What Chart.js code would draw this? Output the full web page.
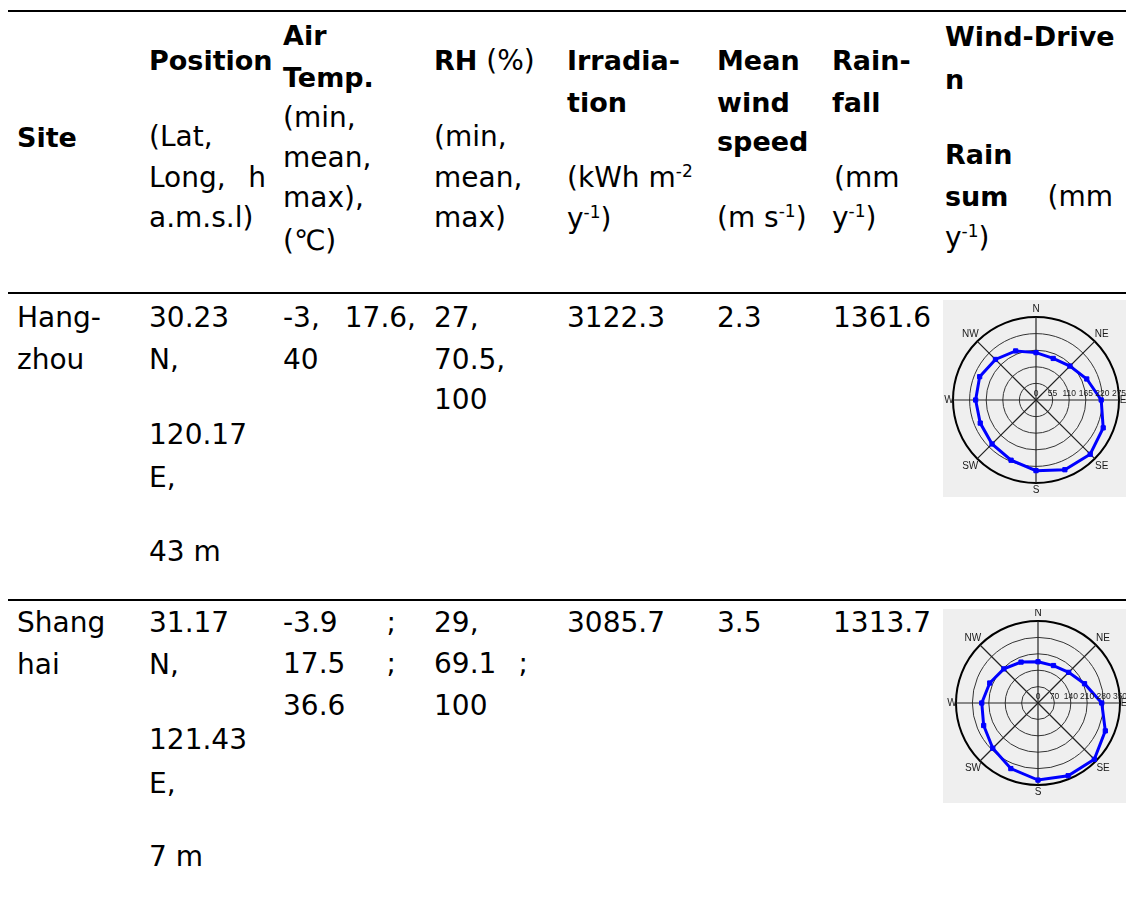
<!DOCTYPE html>
<html>
<head>
<meta charset="utf-8">
<script src="https://cdn.jsdelivr.net/npm/chart.js@4.4.1/dist/chart.umd.min.js"></script>
<style>
  html, body { margin: 0; padding: 0; background: #ffffff; }
  body { width: 1126px; height: 902px; position: relative; overflow: hidden; }
  .t { position: absolute; font-family: "DejaVu Sans", sans-serif; font-size: 28px; line-height: 28px; color: #000; white-space: pre; }
  .b { font-weight: bold; font-size: 27px; }
  .sup { font-size: 17px; line-height: 0; position: relative; top: -10px; }
  .j { display: flex; justify-content: space-between; }
  .rule { position: absolute; left: 8px; right: 0; height: 2px; background: #000; }
  canvas.wdr { position: absolute; background: #efefef; }
</style>
</head>
<body>
<!-- rules -->
<div class="rule" style="top:10px"></div>
<div class="rule" style="top:292px"></div>
<div class="rule" style="top:599px"></div>

<!-- header -->
<div class="t b" style="left:17px;top:124px">Site</div>

<div class="t b" style="left:149px;top:47px">Position</div>
<div class="t" style="left:149px;top:123px">(Lat,</div>
<div class="t j" style="left:149px;top:164px;width:117px"><span>Long,</span><span>h</span></div>
<div class="t" style="left:149px;top:204px">a.m.s.l)</div>

<div class="t b" style="left:283px;top:22px">Air</div>
<div class="t b" style="left:283px;top:64px">Temp.</div>
<div class="t" style="left:283px;top:104px">(min,</div>
<div class="t" style="left:283px;top:144px">mean,</div>
<div class="t" style="left:283px;top:184px">max),</div>
<div class="t" style="left:283px;top:227px">(℃)</div>

<div class="t" style="left:434px;top:47px"><span class="b">RH</span> (%)</div>
<div class="t" style="left:434px;top:123px">(min,</div>
<div class="t" style="left:434px;top:164px">mean,</div>
<div class="t" style="left:434px;top:204px">max)</div>

<div class="t b" style="left:567px;top:47px">Irradia-</div>
<div class="t b" style="left:567px;top:89px">tion</div>
<div class="t" style="left:567px;top:164px">(kWh m<span class="sup">-2</span></div>
<div class="t" style="left:567px;top:205px">y<span class="sup">-1</span>)</div>

<div class="t b" style="left:717px;top:47px">Mean</div>
<div class="t b" style="left:717px;top:89px">wind</div>
<div class="t b" style="left:717px;top:128px">speed</div>
<div class="t" style="left:717px;top:204px">(m s<span class="sup">-1</span>)</div>

<div class="t b" style="left:832px;top:47px">Rain-</div>
<div class="t b" style="left:832px;top:89px">fall</div>
<div class="t" style="left:834px;top:164px">(mm</div>
<div class="t" style="left:832px;top:204px">y<span class="sup">-1</span>)</div>

<div class="t b" style="left:945px;top:23px">Wind-Drive</div>
<div class="t b" style="left:945px;top:66px">n</div>
<div class="t b" style="left:945px;top:141px">Rain</div>
<div class="t j" style="left:945px;top:183px;width:168px"><span class="b">sum</span><span>(mm</span></div>
<div class="t" style="left:945px;top:224px">y<span class="sup">-1</span>)</div>

<!-- row 1 -->
<div class="t" style="left:17px;top:304px">Hang-</div>
<div class="t" style="left:17px;top:346px">zhou</div>
<div class="t" style="left:149px;top:304px">30.23</div>
<div class="t" style="left:149px;top:346px">N,</div>
<div class="t" style="left:149px;top:421px">120.17</div>
<div class="t" style="left:149px;top:464px">E,</div>
<div class="t" style="left:149px;top:538px">43 m</div>
<div class="t j" style="left:283px;top:304px;width:133px"><span>-3,</span><span>17.6,</span></div>
<div class="t" style="left:283px;top:346px">40</div>
<div class="t" style="left:434px;top:304px">27,</div>
<div class="t" style="left:434px;top:346px">70.5,</div>
<div class="t" style="left:434px;top:386px">100</div>
<div class="t" style="left:567px;top:304px">3122.3</div>
<div class="t" style="left:717px;top:304px">2.3</div>
<div class="t" style="left:833px;top:304px">1361.6</div>

<!-- row 2 -->
<div class="t" style="left:17px;top:609px">Shang</div>
<div class="t" style="left:17px;top:651px">hai</div>
<div class="t" style="left:149px;top:609px">31.17</div>
<div class="t" style="left:149px;top:651px">N,</div>
<div class="t" style="left:149px;top:726px">121.43</div>
<div class="t" style="left:149px;top:770px">E,</div>
<div class="t" style="left:149px;top:843px">7 m</div>
<div class="t j" style="left:283px;top:609px;width:113px"><span>-3.9</span><span>;</span></div>
<div class="t j" style="left:283px;top:650px;width:113px"><span>17.5</span><span>;</span></div>
<div class="t" style="left:283px;top:692px">36.6</div>
<div class="t" style="left:434px;top:609px">29,</div>
<div class="t j" style="left:434px;top:650px;width:94px"><span>69.1</span><span>;</span></div>
<div class="t" style="left:434px;top:692px">100</div>
<div class="t" style="left:567px;top:609px">3085.7</div>
<div class="t" style="left:717px;top:609px">3.5</div>
<div class="t" style="left:833px;top:609px">1313.7</div>

<canvas id="c1" class="wdr" width="183" height="197" style="left:943px;top:300px"></canvas>
<canvas id="c2" class="wdr" width="183" height="194" style="left:943px;top:609px"></canvas>

<script>
// ---- data ----
const directions = ['N','NNE','NE','ENE','E','ESE','SE','SSE','S','SSW','SW','WSW','W','WNW','NW','NNW'];
const compassLabels = ['N','NE','E','SE','S','SW','W','NW'];
const hangzhouWDR = [157, 149, 159, 182, 216, 241, 254, 250, 234, 216, 206, 200, 200, 202, 190, 176];
const shanghaiWDR = [176, 173, 185, 215, 272, 311, 340, 336, 329, 303, 273, 251, 240, 223, 206, 189];
const hangzhouTicks = [0, 55, 110, 165, 220, 275];
const shanghaiTicks = [0, 70, 140, 210, 280, 350];

const compassPlugin = {
  id: 'compass',
  afterDraw(chart) {
    const s = chart.scales.r;
    const ctx = chart.ctx;
    ctx.save();
    ctx.fillStyle = '#1a1a1a';
    ctx.font = '10px "Liberation Sans", Arial, sans-serif';
    ctx.textAlign = 'center';
    ctx.textBaseline = 'middle';
    compassLabels.forEach((lab, k) => {
      const extra = (k % 2 === 1) ? 10 : (k % 4 === 0 ? 7.5 : 4);
      const p = s.getPointPosition(k * 2, s.drawingArea + extra);
      ctx.fillText(lab, p.x, p.y);
    });
    ctx.font = '8.5px "Liberation Sans", Arial, sans-serif';
    ctx.textBaseline = 'alphabetic';
    s.ticks.forEach(t => {
      const x = s.xCenter + s.getDistanceFromCenterForValue(t.value);
      ctx.fillText(String(t.value), x, s.yCenter - 4);
    });
    ctx.restore();
  }
};

function makeChart(id, values, ticks, pad) {
  const maxV = ticks[ticks.length - 1];
  return new Chart(document.getElementById(id), {
    type: 'radar',
    data: {
      labels: directions,
      datasets: [{
        data: values,
        borderColor: '#0000ff',
        backgroundColor: '#0000ff',
        pointBackgroundColor: '#0000ff',
        pointBorderColor: '#0000ff',
        borderWidth: 3,
        pointStyle: 'rect',
        pointRadius: 3,
        pointBorderWidth: 1,
        fill: false,
        tension: 0
      }]
    },
    options: {
      responsive: false,
      animation: false,
      devicePixelRatio: 1,
      layout: { padding: pad },
      plugins: { legend: { display: false }, tooltip: { enabled: false } },
      scales: {
        r: {
          min: 0,
          max: maxV,
          ticks: { stepSize: ticks[1] - ticks[0], display: false },
          pointLabels: { display: false },
          grid: {
            circular: true,
            color: c => c.tick && c.tick.value === maxV ? '#000000' : '#333333',
            lineWidth: c => c.tick && c.tick.value === maxV ? 2 : 1
          },
          angleLines: {
            color: c => (c.index % 2 === 0) ? '#222222' : 'rgba(0,0,0,0)',
            lineWidth: 1.2
          }
        }
      }
    },
    plugins: [compassPlugin]
  });
}

makeChart('c1', hangzhouWDR, hangzhouTicks, { left: 10, right: 7, top: 17, bottom: 14 });
makeChart('c2', shanghaiWDR, shanghaiTicks, { left: 13, right: 6, top: 12, bottom: 18 });
</script>
</body>
</html>
